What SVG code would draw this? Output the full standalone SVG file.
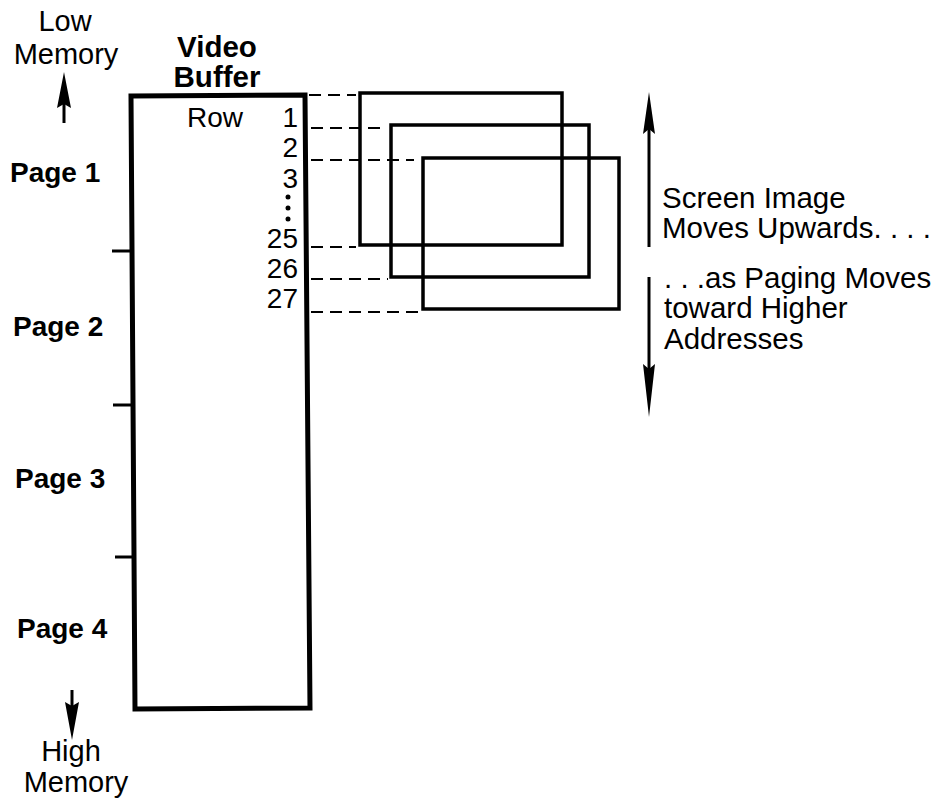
<svg xmlns="http://www.w3.org/2000/svg" width="948" height="799" viewBox="0 0 948 799">
<style>
text{font-family:"Liberation Sans",Arial,sans-serif;fill:#000;}
.r{font-size:28px;}
.c{font-size:29.5px;}
.l{font-size:29px;}
.b{font-size:28px;font-weight:bold;}
.vb{font-size:29.5px;font-weight:bold;}
.m{text-anchor:middle;}
.e{text-anchor:end;}
.dash{stroke:#000;stroke-width:2;stroke-dasharray:12 7;fill:none;}
.frame{fill:none;stroke:#000;stroke-width:3.5;}
.tick{stroke:#000;stroke-width:3;}
.shaft{stroke:#000;stroke-width:3;fill:none;}
</style>
<rect width="948" height="799" fill="#fff"/>

<g id="low-memory">
<text class="l m" x="65" y="31">Low</text>
<text class="l m" x="66" y="64">Memory</text>
</g>
<g id="high-memory">
<text class="l m" x="71" y="761">High</text>
<text class="l m" x="76" y="792">Memory</text>
</g>

<g id="video-buffer">
<text class="vb m" x="217" y="57">Video</text>
<text class="vb m" x="217" y="87">Buffer</text>
<polygon points="131,96 305,95 310,708 135,709" fill="none" stroke="#000" stroke-width="5"/>
<line class="tick" x1="112" y1="251" x2="132" y2="251"/>
<line class="tick" x1="113" y1="405" x2="133" y2="405"/>
<line class="tick" x1="115" y1="557" x2="134" y2="557"/>
<text class="r" x="187" y="127">Row</text>
<text class="r e" x="298" y="127">1</text>
<text class="r e" x="298" y="157">2</text>
<text class="r e" x="298" y="188">3</text>
<circle cx="288" cy="197" r="2.5"/>
<circle cx="288" cy="208" r="2.5"/>
<circle cx="288" cy="219" r="2.5"/>
<text class="r e" x="298" y="248">25</text>
<text class="r e" x="298" y="278">26</text>
<text class="r e" x="298" y="308">27</text>
</g>

<g id="pages">
<text class="b" x="10" y="182">Page 1</text>
<text class="b" x="13" y="336">Page 2</text>
<text class="b" x="15" y="488">Page 3</text>
<text class="b" x="17" y="638">Page 4</text>
</g>

<g id="screen-1"><rect class="frame" x="360" y="93" width="202" height="152"/></g>
<g id="screen-2"><rect class="frame" x="391" y="125" width="198" height="152"/></g>
<g id="screen-3"><rect class="frame" x="423" y="158" width="196" height="151"/></g>

<g id="caption">
<text class="c" x="662" y="208">Screen Image</text>
<text class="c" x="662" y="238">Moves Upwards. . . .</text>
<text class="c" x="664" y="288">. . .as Paging Moves</text>
<text class="c" x="664" y="318">toward Higher</text>
<text class="c" x="664" y="349">Addresses</text>
</g>

<g id="connectors">
<line class="dash" x1="309" y1="95" x2="356" y2="95"/>
<line class="dash" x1="311" y1="128" x2="386" y2="128"/>
<line class="dash" x1="311" y1="160" x2="414" y2="160"/>
<line class="dash" x1="311" y1="247" x2="356" y2="247"/>
<line class="dash" x1="311" y1="279" x2="388" y2="279"/>
<line class="dash" x1="311" y1="312" x2="419" y2="312"/>
<line class="shaft" x1="64" y1="104" x2="64" y2="123"/>
<polygon points="64,72 71,108 64,104 57,108"/>
<line class="shaft" x1="72" y1="690" x2="72" y2="706"/>
<polygon points="72,740 79,702 72,706 65,702"/>
<line class="shaft" x1="649" y1="128" x2="649" y2="247"/>
<polygon points="649,92 655,134 649,129 643,134"/>
<line class="shaft" x1="649" y1="277" x2="649" y2="370"/>
<polygon points="649,417 655,364 649,369 643,364"/>
</g>
</svg>
